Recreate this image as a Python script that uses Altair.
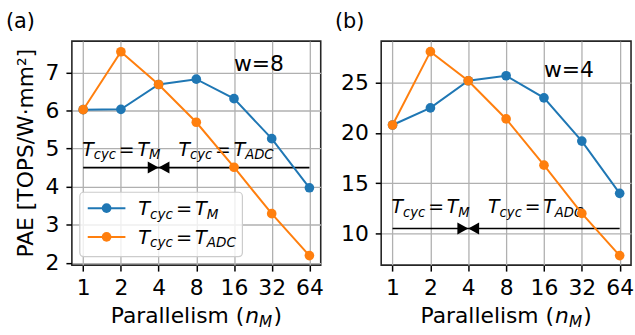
import altair as alt
import pandas as pd

# ---------------- data ----------------
parallelism = [1, 2, 4, 8, 16, 32, 64]
pae_w8_tm = [6.02, 6.03, 6.68, 6.82, 6.31, 5.26, 3.97]
pae_w8_tadc = [6.02, 7.54, 6.68, 5.69, 4.51, 3.29, 2.19]
pae_w4_tm = [20.8, 22.5, 25.2, 25.7, 23.5, 19.2, 14.0]
pae_w4_tadc = [20.8, 28.1, 25.2, 21.4, 16.8, 12.0, 7.8]

series_colors = ["#1f77b4", "#ff7f0e"]
series_sub = ["M", "ADC"]
panel_tags = ["(a)", "(b)"]
w_labels = ["w=8", "w=4"]
w_label_x = [16, 16]
w_label_y = [7.03, 25.6]
arrow_y = [4.5, 10.5]
arrow_label_y = [4.8, 12.0]
arrow_split = 4
arrow_from, arrow_to = 1, 64
y_domains = [[1.94, 7.82], [6.85, 29.15]]
y_ticks = [[2, 3, 4, 5, 6, 7], [10, 15, 20, 25]]
x_domain = [2 ** -0.3, 2 ** 6.3]

FONT = "DejaVu Sans"
W = [251, 252]
H = 226

ADV = {"T": .611, "c": .550, "y": .592, "M": .863, "A": .684, "D": .770, "C": .698,
       "=": .838, "n": .634, "P": .603, "a": .613, "r": .411, "l": .278, "e": .615,
       "i": .278, "s": .521, "m": .974, " ": .318, "(": .390, ")": .390}


def tw(s, size):
    return sum(ADV.get(ch, 0.6) for ch in s) * size


def one(**kw):
    return pd.DataFrame({k: [v] for k, v in kw.items()} if kw else {"k": [0]})


def rich(pieces, f, data, ex, ey, dx0=0.0, dy0=0.0, center=False):
    lay = []
    meas = []
    for txt, it, sub, pre in pieces:
        sz = f * 0.7 if sub else f
        meas.append((pre * f, tw(txt, sz), sz))
    total = sum(p + w for p, w, _ in meas)
    cur = dx0 - (total / 2 if center else 0)
    for (txt, it, sub, pre), (p, w, sz) in zip(pieces, meas):
        cur += p
        lay.append(alt.Chart(data).mark_text(
            text=txt, align="left", baseline="alphabetic", font=FONT, fontSize=sz,
            fontStyle="italic" if it else "normal", dx=cur,
            dy=dy0 + (0.17 * f if sub else 0), color="black").encode(x=ex, y=ey))
        cur += w
    return lay


def tcyc(sub):
    return [("T", True, False, 0), ("cyc", True, True, 0), ("=", False, False, 0.15),
            ("T", True, False, 0.15), (sub, True, True, 0)]


def panel(i, tm, tadc):
    xs = alt.Scale(type="log", base=2, domain=x_domain, nice=False)
    ys = alt.Scale(domain=y_domains[i], nice=False, zero=False)
    xa = alt.Axis(values=parallelism, format="d", labelFontSize=22, labelFont=FONT,
                  labelColor="black", tickSize=6, tickWidth=1.5, tickColor="black",
                  labelPadding=7, domain=False, grid=True, gridColor="#b0b0b0",
                  gridWidth=1.3, title=None, labelFlush=False, labelOverlap=False)
    ya = alt.Axis(values=y_ticks[i], labelFontSize=22, labelFont=FONT,
                  labelColor="black", tickSize=6, tickWidth=1.5, tickColor="black",
                  labelPadding=7, domain=False, grid=True, gridColor="#b0b0b0",
                  gridWidth=1.3, title=None, labelFlush=False, labelOverlap=False)
    ex = alt.X("x:Q", scale=xs, axis=xa)
    ey = alt.Y("y:Q", scale=ys, axis=ya)
    layers = []
    # arrow line and heads
    layers.append(alt.Chart(one(x=arrow_from, x2=arrow_to, y=arrow_y[i])).mark_rule(
        color="black", strokeWidth=1.7).encode(x=ex, x2="x2:Q", y=ey))
    for shape in ["M -1 -0.55 L 0 0 L -1 0.55 Z", "M 1 -0.55 L 0 0 L 1 0.55 Z"]:
        layers.append(alt.Chart(one(x=arrow_split, y=arrow_y[i])).mark_point(
            shape=shape, filled=True, size=480, color="black", opacity=1,
            strokeWidth=0).encode(x=ex, y=ey))
    layers += rich(tcyc("M"), 19, one(x=arrow_from, y=arrow_label_y[i]), ex, ey, dx0=-1)
    layers += rich(tcyc("ADC"), 19, one(x=arrow_split, y=arrow_label_y[i]), ex, ey, dx0=20)
    # data
    for vals, col in zip([tm, tadc], series_colors):
        d = pd.DataFrame({"x": parallelism, "y": vals})
        layers.append(alt.Chart(d).mark_line(color=col, strokeWidth=2).encode(x=ex, y=ey))
        layers.append(alt.Chart(d).mark_point(filled=True, size=95, color=col, opacity=1,
                                              strokeWidth=0).encode(x=ex, y=ey))
    # w label
    layers.append(alt.Chart(one(x=w_label_x[i], y=w_label_y[i])).mark_text(
        text=w_labels[i], align="left", baseline="alphabetic", font=FONT, fontSize=22,
        color="black").encode(x=ex, y=ey))
    # legend (panel a)
    if i == 0:
        layers.append(alt.Chart(one()).mark_rect(
            fill="white", fillOpacity=0.8, stroke="#cccccc", strokeWidth=1.2,
            cornerRadius=4).encode(x=alt.value(8), x2=alt.value(172),
                                   y=alt.value(152.5), y2=alt.value(217.5)))
        for k, (col, sub) in enumerate(zip(series_colors, series_sub)):
            yy = 168.5 + 29 * k
            layers.append(alt.Chart(one()).mark_rule(color=col, strokeWidth=2).encode(
                x=alt.value(16), x2=alt.value(54), y=alt.value(yy)))
            layers.append(alt.Chart(one()).mark_point(
                filled=True, size=95, color=col, opacity=1, strokeWidth=0).encode(
                x=alt.value(35), y=alt.value(yy)))
            layers += rich(tcyc(sub), 19.5, one(), alt.value(67), alt.value(yy + 7.3))
        layers.append(alt.Chart(one()).mark_text(
            text="PAE [TOPS/W·mm²]", angle=270, align="center", baseline="alphabetic",
            font=FONT, fontSize=22, color="black").encode(
            x=alt.value(-39.5), y=alt.value(H / 2)))
    # x title
    xt = [("Parallelism (", False, False, 0), ("n", True, False, 0),
          ("M", True, True, 0), (")", False, False, 0.05)]
    layers += rich(xt, 22, one(), alt.value(W[i] / 2), alt.value(284.8), center=True)
    # panel tag
    layers.append(alt.Chart(one()).mark_text(
        text=panel_tags[i], align="left", baseline="alphabetic", font=FONT,
        fontSize=21, color="black").encode(
        x=alt.value(-66.5 if i == 0 else -46.7), y=alt.value(-13.5)))
    return alt.layer(*layers).properties(width=W[i], height=H)


chart = alt.hconcat(panel(0, pae_w8_tm, pae_w8_tadc), panel(1, pae_w4_tm, pae_w4_tadc),
                    spacing=9).properties(
    padding={"left": 4.5, "top": 8, "right": 0, "bottom": 0},
    background="white").configure_view(stroke="#262626", strokeWidth=1.6)

chart.save("out.html", embed_options={"renderer": "svg", "actions": False})
